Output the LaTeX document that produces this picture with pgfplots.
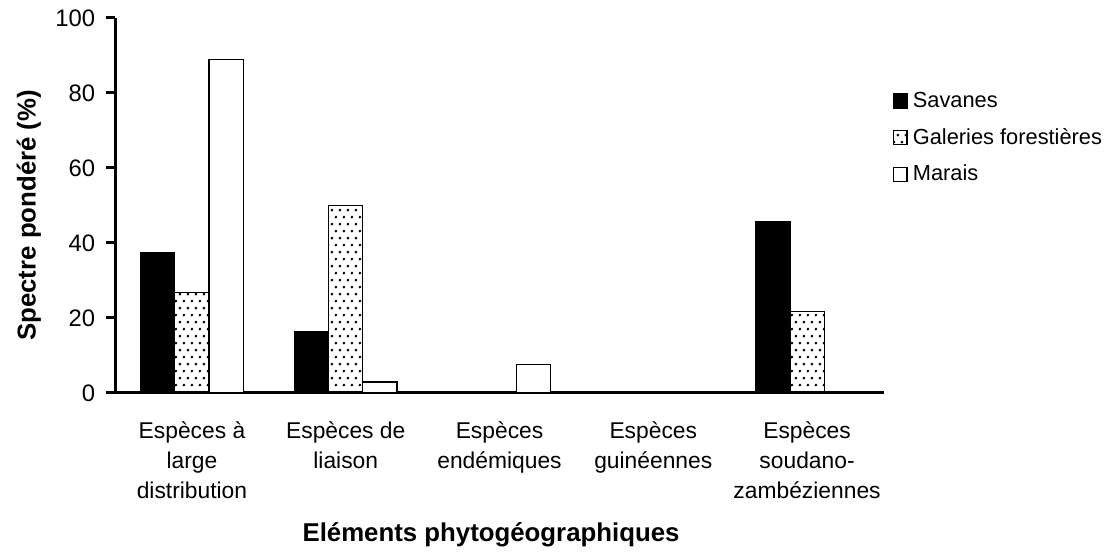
\documentclass[border=0pt]{standalone}
\usepackage{pgfplots}
\pgfplotsset{compat=1.18}
\usetikzlibrary{patterns}
\usepackage{fontspec}
\setmainfont{Liberation Sans}
\pgfdeclarepatternformonly{sdots}{\pgfqpoint{0pt}{0pt}}{\pgfqpoint{4pt}{7pt}}{\pgfqpoint{4pt}{7pt}}{%
  \pgfpathcircle{\pgfqpoint{1pt}{1pt}}{0.75pt}%
  \pgfpathcircle{\pgfqpoint{3pt}{4.5pt}}{0.75pt}%
  \pgfusepath{fill}}
\begin{document}
\begin{tikzpicture}
\begin{axis}[
  scale only axis, width=387.5pt, height=189pt,
  xmin=0, xmax=5, ymin=0, ymax=100,
  axis lines*=left,
  axis line style={line width=1.5pt, black},
  ybar=0pt, bar width=17.25pt,
  xtick={0.5,1.5,2.5,3.5,4.5},
  xticklabels={Espèces à\\large\\distribution, Espèces de\\liaison, Espèces\\endémiques, Espèces\\guinéennes, Espèces\\soudano-\\zambéziennes},
  x tick style={draw=none},
  extra x ticks={0,1,2,3,4,5},
  extra x tick labels={},
  extra x tick style={tick style={draw=black, line width=1.5pt}, major tick length=4pt},
  ytick={0,20,...,100},
  tick align=outside, major tick length=4.5pt,
  y tick style={line width=1.5pt, black},
  /pgf/number format/assume math mode=true,
  xticklabel style={align=center, font=\fontsize{11.5}{15}\selectfont, yshift=-6.5pt},
  yticklabel style={font=\fontsize{12}{14}\selectfont, xshift=-2pt},
  xlabel={Eléments phytogéographiques},
  xlabel style={font=\fontsize{13}{15}\selectfont\bfseries, at={(axis description cs:0.489,0)}, anchor=center, yshift=-71.5pt},
  clip=false,
  legend style={draw=none, fill=none, at={(1.003,0.68)}, anchor=west,
    font=\fontsize{11}{13}\selectfont, row sep=7pt,
    nodes={inner sep=1pt}},
  legend cell align=left,
  legend image code/.code={\draw[#1, line width=0.8pt] (0pt,-3.5pt) rectangle (7pt,3.5pt); \path (8.5pt,0);},
]
\addplot[fill=black, draw=black, line width=0.6pt] coordinates {(0.5,37.5) (1.5,16.4) (2.5,0) (3.5,0) (4.5,45.7)};
\addplot[draw=black, line width=0.6pt, pattern=sdots] coordinates {(0.5,26.7) (1.5,49.9) (2.5,0) (3.5,0.3) (4.5,21.8)};
\addplot[draw=black, fill=white, line width=0.6pt] coordinates {(0.5,88.8) (1.5,2.9) (2.5,7.5) (3.5,0) (4.5,0)};
\legend{Savanes, Galeries forestières, Marais}
\end{axis}
\node[rotate=90, font=\fontsize{13}{15}\selectfont\bfseries] at ([xshift=-43.5pt,yshift=-5pt]current axis.west) {Spectre pondéré (\%)};
\path (current axis.south west) ++(-58pt,-76.5pt) rectangle ++(555pt,274.5pt);
\end{tikzpicture}
\end{document}
